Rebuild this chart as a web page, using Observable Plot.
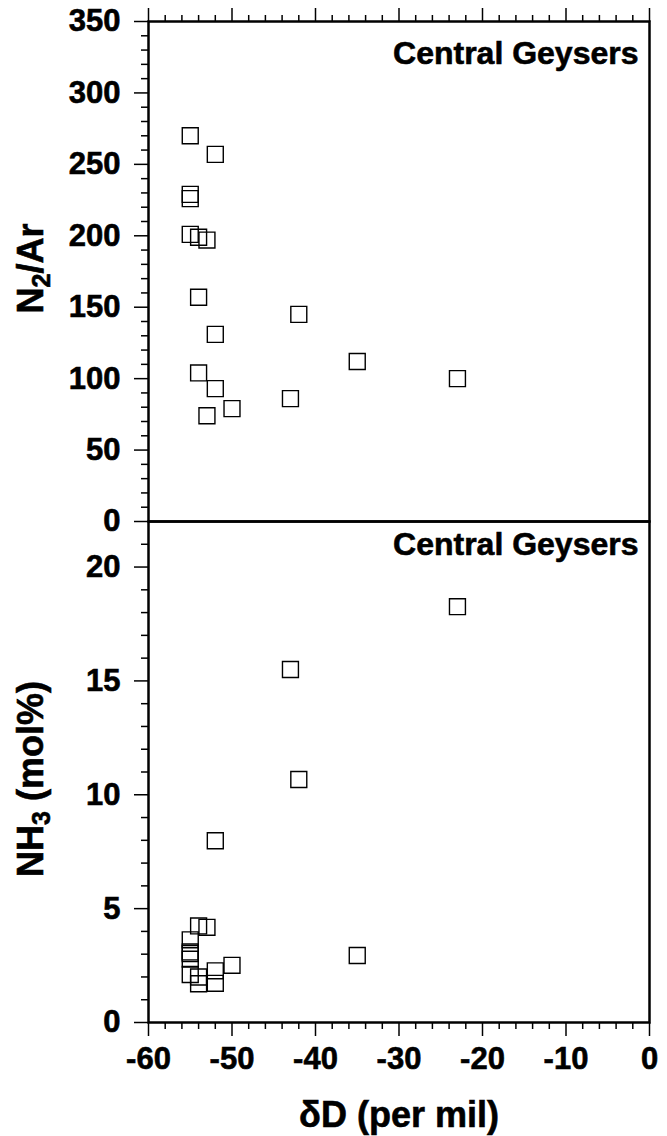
<!DOCTYPE html>
<html>
<head>
<meta charset="utf-8">
<script src="https://cdn.jsdelivr.net/npm/d3@7"></script>
<script src="https://cdn.jsdelivr.net/npm/@observablehq/plot@0.6"></script>
<style>
  body { margin: 0; background: #fff; }
  #chart { position: relative; width: 667px; height: 1136px; }
  #chart svg { position: absolute; left: 0; }
  #chart svg text { stroke: black; stroke-width: 0.6px; }
</style>
</head>
<body>
<div id="chart"></div>
<script>
// ---- data ----
const dDTop = [-55, -52, -55, -55, -55, -54, -53, -54, -42, -52, -35, -54, -52, -43, -50, -53, -23];
const n2ar  = [270, 257, 229, 226, 201, 199, 197, 157, 145, 131, 112, 104, 93, 86, 79, 74, 100];

const dDBot = [-55, -55, -55, -55, -55, -54, -54, -54, -53, -52, -52, -52, -50, -43, -42, -35, -23];
const nh3   = [3.63, 3.10, 3.03, 2.78, 2.11, 4.24, 2.00, 1.70, 4.18, 7.98, 2.27, 1.72, 2.51, 15.5, 10.67, 2.94, 18.26];

const xMajor = [-60, -50, -40, -30, -20, -10, 0];
const xMinor = d3.range(-58, 0, 2).filter(v => v % 10 !== 0);
const yTopMajor = [0, 50, 100, 150, 200, 250, 300, 350];
const yTopMinor = d3.range(10, 350, 10).filter(v => v % 50 !== 0);
const yBotMajor = [0, 5, 10, 15, 20];
const yBotMinor = d3.range(1, 22, 1).filter(v => v % 5 !== 0);

const panelLabel = "Central Geysers";
const yTitleTop = "N2/Ar";
const yTitleBot = "NH3 (mol%)";
const xTitle = "δD (per mil)";

const topData = dDTop.map((d, i) => ({dD: d, v: n2ar[i]}));
const botData = dDBot.map((d, i) => ({dD: d, v: nh3[i]}));

const fmt = d => String(d);  // plain hyphen minus, as in the reference
const font = "'Liberation Sans', Arial, Helvetica, sans-serif";
const baseStyle = {fontFamily: font, fontWeight: "bold", fontSize: "31px", background: "transparent", overflow: "visible", color: "black"};

const plotTop = Plot.plot({
  width: 667, height: 521,
  marginTop: 21, marginBottom: 0, marginLeft: 148, marginRight: 18,
  style: baseStyle,
  x: {domain: [-60, 0], label: null},
  y: {domain: [0, 350], label: null},
  marks: [
    Plot.axisX(xMajor, {anchor: "top", tickSize: 14, text: null, label: null, strokeWidth: 1.5}),
    Plot.axisX(xMinor, {anchor: "top", tickSize: 7, text: null, label: null, strokeWidth: 1.5}),
    Plot.axisY(yTopMajor, {anchor: "left", tickSize: 14, tickPadding: 14, label: null, fontSize: 31, tickFormat: fmt, strokeWidth: 1.5}),
    Plot.axisY(yTopMinor, {anchor: "left", tickSize: 7, text: null, label: null, strokeWidth: 1.5}),
    Plot.frame({stroke: "black", strokeWidth: 2.5}),
    Plot.dot(topData, {x: "dD", y: "v", symbol: "square", r: 9, stroke: "black", strokeWidth: 1.4, fill: "none"}),
    Plot.text([panelLabel], {frameAnchor: "top-right", dx: -11, dy: 20, fontSize: 32}),
    Plot.text([yTitleTop], {frameAnchor: "left", rotate: -90, textAnchor: "middle", lineAnchor: "middle", dx: -117, dy: -3, fontSize: 36})
  ]
});

const plotBot = Plot.plot({
  width: 667, height: 615,
  marginTop: 0, marginBottom: 114, marginLeft: 148, marginRight: 18,
  style: baseStyle,
  x: {domain: [-60, 0], label: null},
  y: {domain: [0, 22], label: null},
  marks: [
    Plot.axisX(xMajor, {anchor: "bottom", tickSize: 14, tickPadding: 10, label: null, fontSize: 31, tickFormat: fmt, strokeWidth: 1.5}),
    Plot.axisX(xMinor, {anchor: "bottom", tickSize: 7, text: null, label: null, strokeWidth: 1.5}),
    Plot.axisY(yBotMajor, {anchor: "left", tickSize: 14, tickPadding: 14, label: null, fontSize: 31, tickFormat: fmt, strokeWidth: 1.5}),
    Plot.axisY(yBotMinor, {anchor: "left", tickSize: 7, text: null, label: null, strokeWidth: 1.5}),
    Plot.frame({stroke: "black", strokeWidth: 2.5}),
    Plot.dot(botData, {x: "dD", y: "v", symbol: "square", r: 9, stroke: "black", strokeWidth: 1.4, fill: "none"}),
    Plot.text([panelLabel], {frameAnchor: "top-right", dx: -11, dy: 11, fontSize: 32}),
    Plot.text([yTitleBot], {frameAnchor: "left", rotate: -90, textAnchor: "middle", lineAnchor: "middle", dx: -117, dy: 7, fontSize: 36}),
    Plot.text([xTitle], {frameAnchor: "bottom", textAnchor: "middle", lineAnchor: "top", dy: 79, fontSize: 36})
  ]
});

plotTop.style.top = "0px";
plotBot.style.top = "521px";
const chart = document.getElementById("chart");
chart.appendChild(plotBot);
chart.appendChild(plotTop);

function subscriptTitle(svg, full, before, sub, after) {
  d3.select(svg).selectAll("text")
    .filter(function() { return this.textContent === full; })
    .each(function() {
      const t = d3.select(this);
      t.text(null);
      t.append("tspan").text(before);
      t.append("tspan").attr("dy", 7).attr("font-size", 25).text(sub);
      t.append("tspan").attr("dy", -7).text(after);
    });
}
subscriptTitle(plotTop, yTitleTop, "N", "2", "/Ar");
subscriptTitle(plotBot, yTitleBot, "NH", "3", "\u00a0(mol%)");
</script>
</body>
</html>
